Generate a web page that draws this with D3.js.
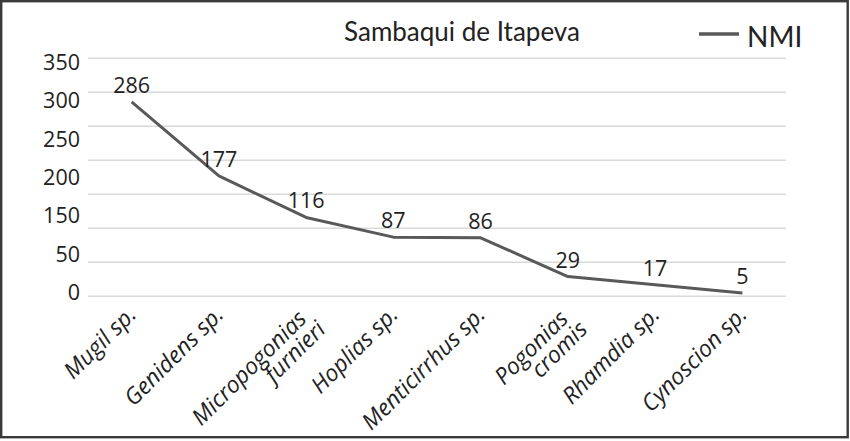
<!DOCTYPE html>
<html>
<head>
<meta charset="utf-8">
<script src="https://cdn.jsdelivr.net/npm/d3@7"></script>
<style>
  html, body { margin: 0; padding: 0; background: #fff; }
  svg { display: block; }
</style>
</head>
<body>
<svg id="chart" width="850" height="441"></svg>
<script>
// ---- data ----
const title = "Sambaqui de Itapeva";
const seriesName = "NMI";
const categories = ["Mugil sp.", "Genidens sp.", "Micropogonias\nfurnieri", "Hoplias sp.",
                    "Menticirrhus sp.", "Pogonias\ncromis", "Rhamdia sp.", "Cynoscion sp."];
const values = [286, 177, 116, 87, 86, 29, 17, 5];
const gridTicks = [0, 50, 100, 150, 200, 250, 300, 350];
const yTickLabels = ["350", "300", "250", "200", "150", "50", "0"];

// ---- layout ----
const W = 850, H = 441;
const plot = { left: 88, right: 786, top: 58.3, bottom: 296.3 };
const svg = d3.select("#chart");
const numFont = "'Open Sans', 'Noto Sans', sans-serif";
const titleFont = "Lato, 'Noto Sans', sans-serif";

svg.append("rect").attr("x", 0).attr("y", 0).attr("width", W).attr("height", H).attr("fill", "#fff");

const x = d3.scaleBand().domain(categories).range([plot.left, plot.right]).padding(0);
const y = d3.scaleLinear().domain([0, 350]).range([plot.bottom, plot.top]);
const yLab = d3.scalePoint().domain(yTickLabels).range([62.5, 292.5]);

// gridlines
svg.append("g").selectAll("line").data(gridTicks).join("line")
  .attr("x1", plot.left).attr("x2", plot.right)
  .attr("y1", d => y(d)).attr("y2", d => y(d))
  .attr("stroke", "#d9d9d9").attr("stroke-width", 1.4);

// y labels (evenly spaced as in the original)
const yAxis = svg.append("g").attr("transform", "translate(80,0)")
  .call(d3.axisLeft(yLab).tickSize(0).tickPadding(0));
yAxis.select(".domain").remove();
yAxis.selectAll("text")
  .attr("font-family", numFont).attr("font-size", 21.5).attr("fill", "#222");

// line
const line = d3.line()
  .x((d, i) => x(categories[i]) + x.bandwidth() / 2)
  .y(d => y(d));
svg.append("path").datum(values)
  .attr("d", line).attr("fill", "none")
  .attr("stroke", "#595959").attr("stroke-width", 3).attr("stroke-linejoin", "round");

// value labels
svg.append("g").selectAll("text").data(values).join("text")
  .attr("x", (d, i) => x(categories[i]) + x.bandwidth() / 2)
  .attr("y", d => y(d) - 9)
  .attr("text-anchor", "middle")
  .attr("font-family", numFont).attr("font-size", 21.5).attr("fill", "#222")
  .text(d => d);

// x labels (rotated, italic)
const ang = -45;
const xl = svg.append("g").selectAll("text").data(categories).join("text")
  .attr("transform", d => `translate(${x(d) + x.bandwidth() / 2 + 6},316) rotate(${ang})`)
  .attr("text-anchor", "end")
  .attr("font-family", numFont).attr("font-style", "italic")
  .attr("font-size", 23).attr("fill", "#222");
xl.each(function(d) {
  const lines = d.split("\n");
  const t = d3.select(this);
  lines.forEach((ln, i) => {
    t.append("tspan").attr("x", i < lines.length - 1 ? -6 : 0)
      .attr("y", i * 21).text(ln);
  });
});

// title
svg.append("text").attr("x", 462).attr("y", 41)
  .attr("text-anchor", "middle")
  .attr("font-family", titleFont).attr("font-size", 26).attr("fill", "#222")
  .text(title);

// legend
svg.append("line").attr("x1", 699).attr("x2", 739).attr("y1", 34).attr("y2", 34)
  .attr("stroke", "#595959").attr("stroke-width", 3.5);
svg.append("text").attr("x", 747).attr("y", 46.5)
  .attr("font-family", titleFont).attr("font-size", 28).attr("fill", "#222")
  .text(seriesName);

// border
svg.append("rect").attr("x", 1.2).attr("y", 1.2).attr("width", 846.5).attr("height", 436)
  .attr("fill", "none").attr("stroke", "#3a3a3a").attr("stroke-width", 2.4);
</script>
</body>
</html>
